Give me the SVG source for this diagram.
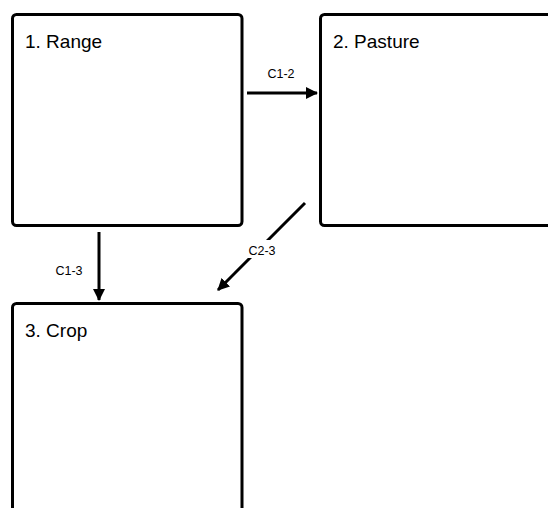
<svg xmlns="http://www.w3.org/2000/svg" width="548" height="508" viewBox="0 0 548 508">
<style>
.box{fill:#fff;stroke:#000;stroke-width:3}
.title{font-family:"Liberation Sans",Arial,sans-serif;font-size:19px;fill:#000}
.lbl{font-family:"Liberation Sans",Arial,sans-serif;font-size:12.5px;fill:#000;text-anchor:middle}
.edge{stroke:#000;stroke-width:3;fill:none;marker-end:url(#ah)}
</style>
<defs>
<marker id="ah" viewBox="0 0 12 13" refX="11" refY="6.5" markerWidth="12" markerHeight="13" markerUnits="userSpaceOnUse" orient="auto">
<path d="M0,0.5 L12,6.5 L0,12.5 Z" fill="#000"/>
</marker>
</defs>
<rect width="548" height="508" fill="#fff"/>
<g id="node-range">
<rect class="box" x="12.5" y="14.5" width="229.5" height="211" rx="4"/>
<text class="title" x="25" y="48">1. Range</text>
</g>
<g id="node-pasture">
<rect class="box" x="320.5" y="14.5" width="240" height="211" rx="4"/>
<text class="title" x="333" y="48">2. Pasture</text>
</g>
<g id="node-crop">
<rect class="box" x="12.5" y="303.5" width="229.5" height="220" rx="4"/>
<text class="title" x="25" y="337">3. Crop</text>
</g>
<g id="connectors">
<line class="edge" x1="247" y1="93" x2="317" y2="93"/>
<text class="lbl" x="281" y="78">C1-2</text>
<line class="edge" x1="99" y1="232" x2="99" y2="300"/>
<text class="lbl" x="69" y="275">C1-3</text>
<line class="edge" x1="305" y1="203" x2="218" y2="290"/>
<rect x="245" y="240" width="34" height="18" fill="#fff"/>
<text class="lbl" x="262" y="255">C2-3</text>
</g>
</svg>
